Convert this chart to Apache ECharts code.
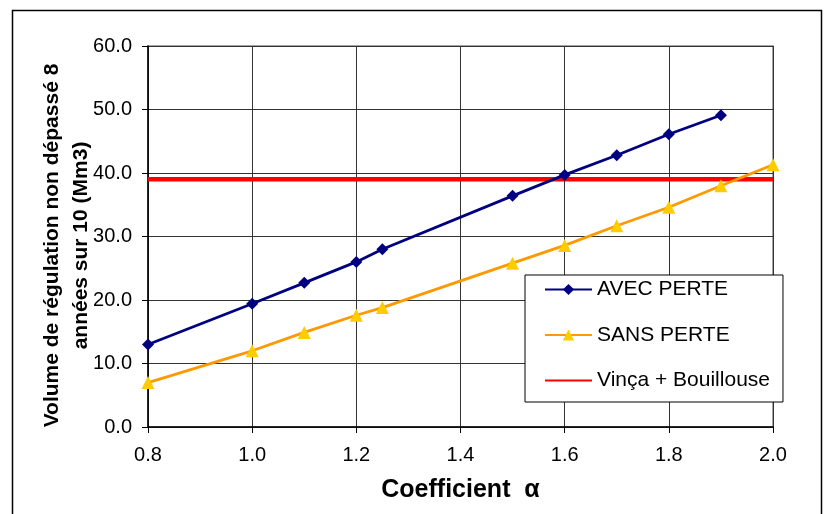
<!DOCTYPE html>
<html><head><meta charset="utf-8">
<script src="https://cdn.jsdelivr.net/npm/echarts@6/dist/echarts.min.js"></script>
<style>html,body{margin:0;padding:0;background:#fff}#c{width:828px;height:514px}</style>
</head><body><div id="c"></div>
<script>
const xAvec = [0.8, 1.0, 1.1, 1.2, 1.25, 1.5, 1.6, 1.7, 1.8, 1.9];
const yAvec = [13.0, 19.4, 22.7, 26.0, 28.0, 36.4, 39.7, 42.8, 46.1, 49.1];
const xSans = [0.8, 1.0, 1.1, 1.2, 1.25, 1.5, 1.6, 1.7, 1.8, 1.9, 2.0];
const ySans = [7.0, 12.0, 14.9, 17.6, 18.8, 25.8, 28.6, 31.7, 34.6, 38.0, 41.3];
const xVinca = [0.8, 2.0];
const yVinca = [39.0, 39.0];
const names = ['AVEC PERTE', 'SANS PERTE', 'Vinça + Bouillouse'];
const xName = 'Coefficient  α';
const yName = 'Volume de régulation non dépassé 8\nannées sur 10 (Mm3)';

const zip = (xs, ys) => xs.map((x, i) => [x, ys[i]]);
const font = '"Liberation Sans", Arial, sans-serif';
const chart = echarts.init(document.getElementById('c'), null, {renderer: 'canvas'});
chart.setOption({
  animation: false,
  backgroundColor: '#fff',
  textStyle: {fontFamily: font},
  graphic: [{
    type: 'rect', shape: {x: 12.5, y: 10.5, width: 809, height: 520},
    style: {fill: 'none', stroke: '#000', lineWidth: 1.5}, z: -10
  }],
  grid: {left: 148, right: 55, top: 46, bottom: 87, show: true, borderColor: '#888', borderWidth: 1.5},
  legend: {
    orient: 'vertical', left: 525, top: 275,
    padding: [4, 13, 11, 19], itemGap: 24.5, itemWidth: 47, itemHeight: 14, itemTextGap: 3,
    backgroundColor: '#fff', borderColor: '#000', borderWidth: 1,
    textStyle: {fontSize: 21, color: '#000', fontFamily: font},
    data: names
  },
  xAxis: {
    type: 'value', min: 0.8, max: 2.0, interval: 0.2,
    name: xName, nameLocation: 'middle', nameGap: 51, nameMoveOverlap: false,
    nameTextStyle: {fontSize: 25, fontWeight: 'bold', color: '#000', fontFamily: font},
    axisLine: {lineStyle: {color: '#000', width: 1.5}},
    axisTick: {show: true, length: 6, lineStyle: {color: '#000'}},
    axisLabel: {fontSize: 20, color: '#000', margin: 18, formatter: v => v.toFixed(1)},
    splitLine: {show: true, lineStyle: {color: '#333', width: 1}}
  },
  yAxis: {
    type: 'value', min: 0, max: 60, interval: 10,
    name: yName, nameLocation: 'middle', nameGap: 52, nameRotate: 90, nameMoveOverlap: false,
    nameTextStyle: {fontSize: 21, fontWeight: 'bold', color: '#000', fontFamily: font, lineHeight: 29, padding: [0, 0, 0, -18]},
    axisLine: {show: true, lineStyle: {color: '#000', width: 1.5}},
    axisTick: {show: true, length: 6, lineStyle: {color: '#000'}},
    axisLabel: {fontSize: 20, color: '#000', margin: 16, formatter: v => v.toFixed(1)},
    splitLine: {show: true, lineStyle: {color: '#333', width: 1}}
  },
  series: [
    {name: names[0], type: 'line', data: zip(xAvec, yAvec), color: '#000080',
     lineStyle: {width: 2.8, color: '#000080'}, symbol: 'diamond', symbolSize: 12,
     itemStyle: {color: '#000080'}, z: 4},
    {name: names[1], type: 'line', data: zip(xSans, ySans), color: '#FF9900',
     lineStyle: {width: 2.8, color: '#FF9900'}, symbol: 'triangle', symbolSize: 13,
     itemStyle: {color: '#FFCC00'}, z: 4},
    {name: names[2], type: 'line', data: zip(xVinca, yVinca), color: '#FF0000',
     lineStyle: {width: 4.5, color: '#FF0000'}, symbol: 'none',
     itemStyle: {color: 'rgba(0,0,0,0)'}, z: 3}
  ]
});
</script></body></html>
